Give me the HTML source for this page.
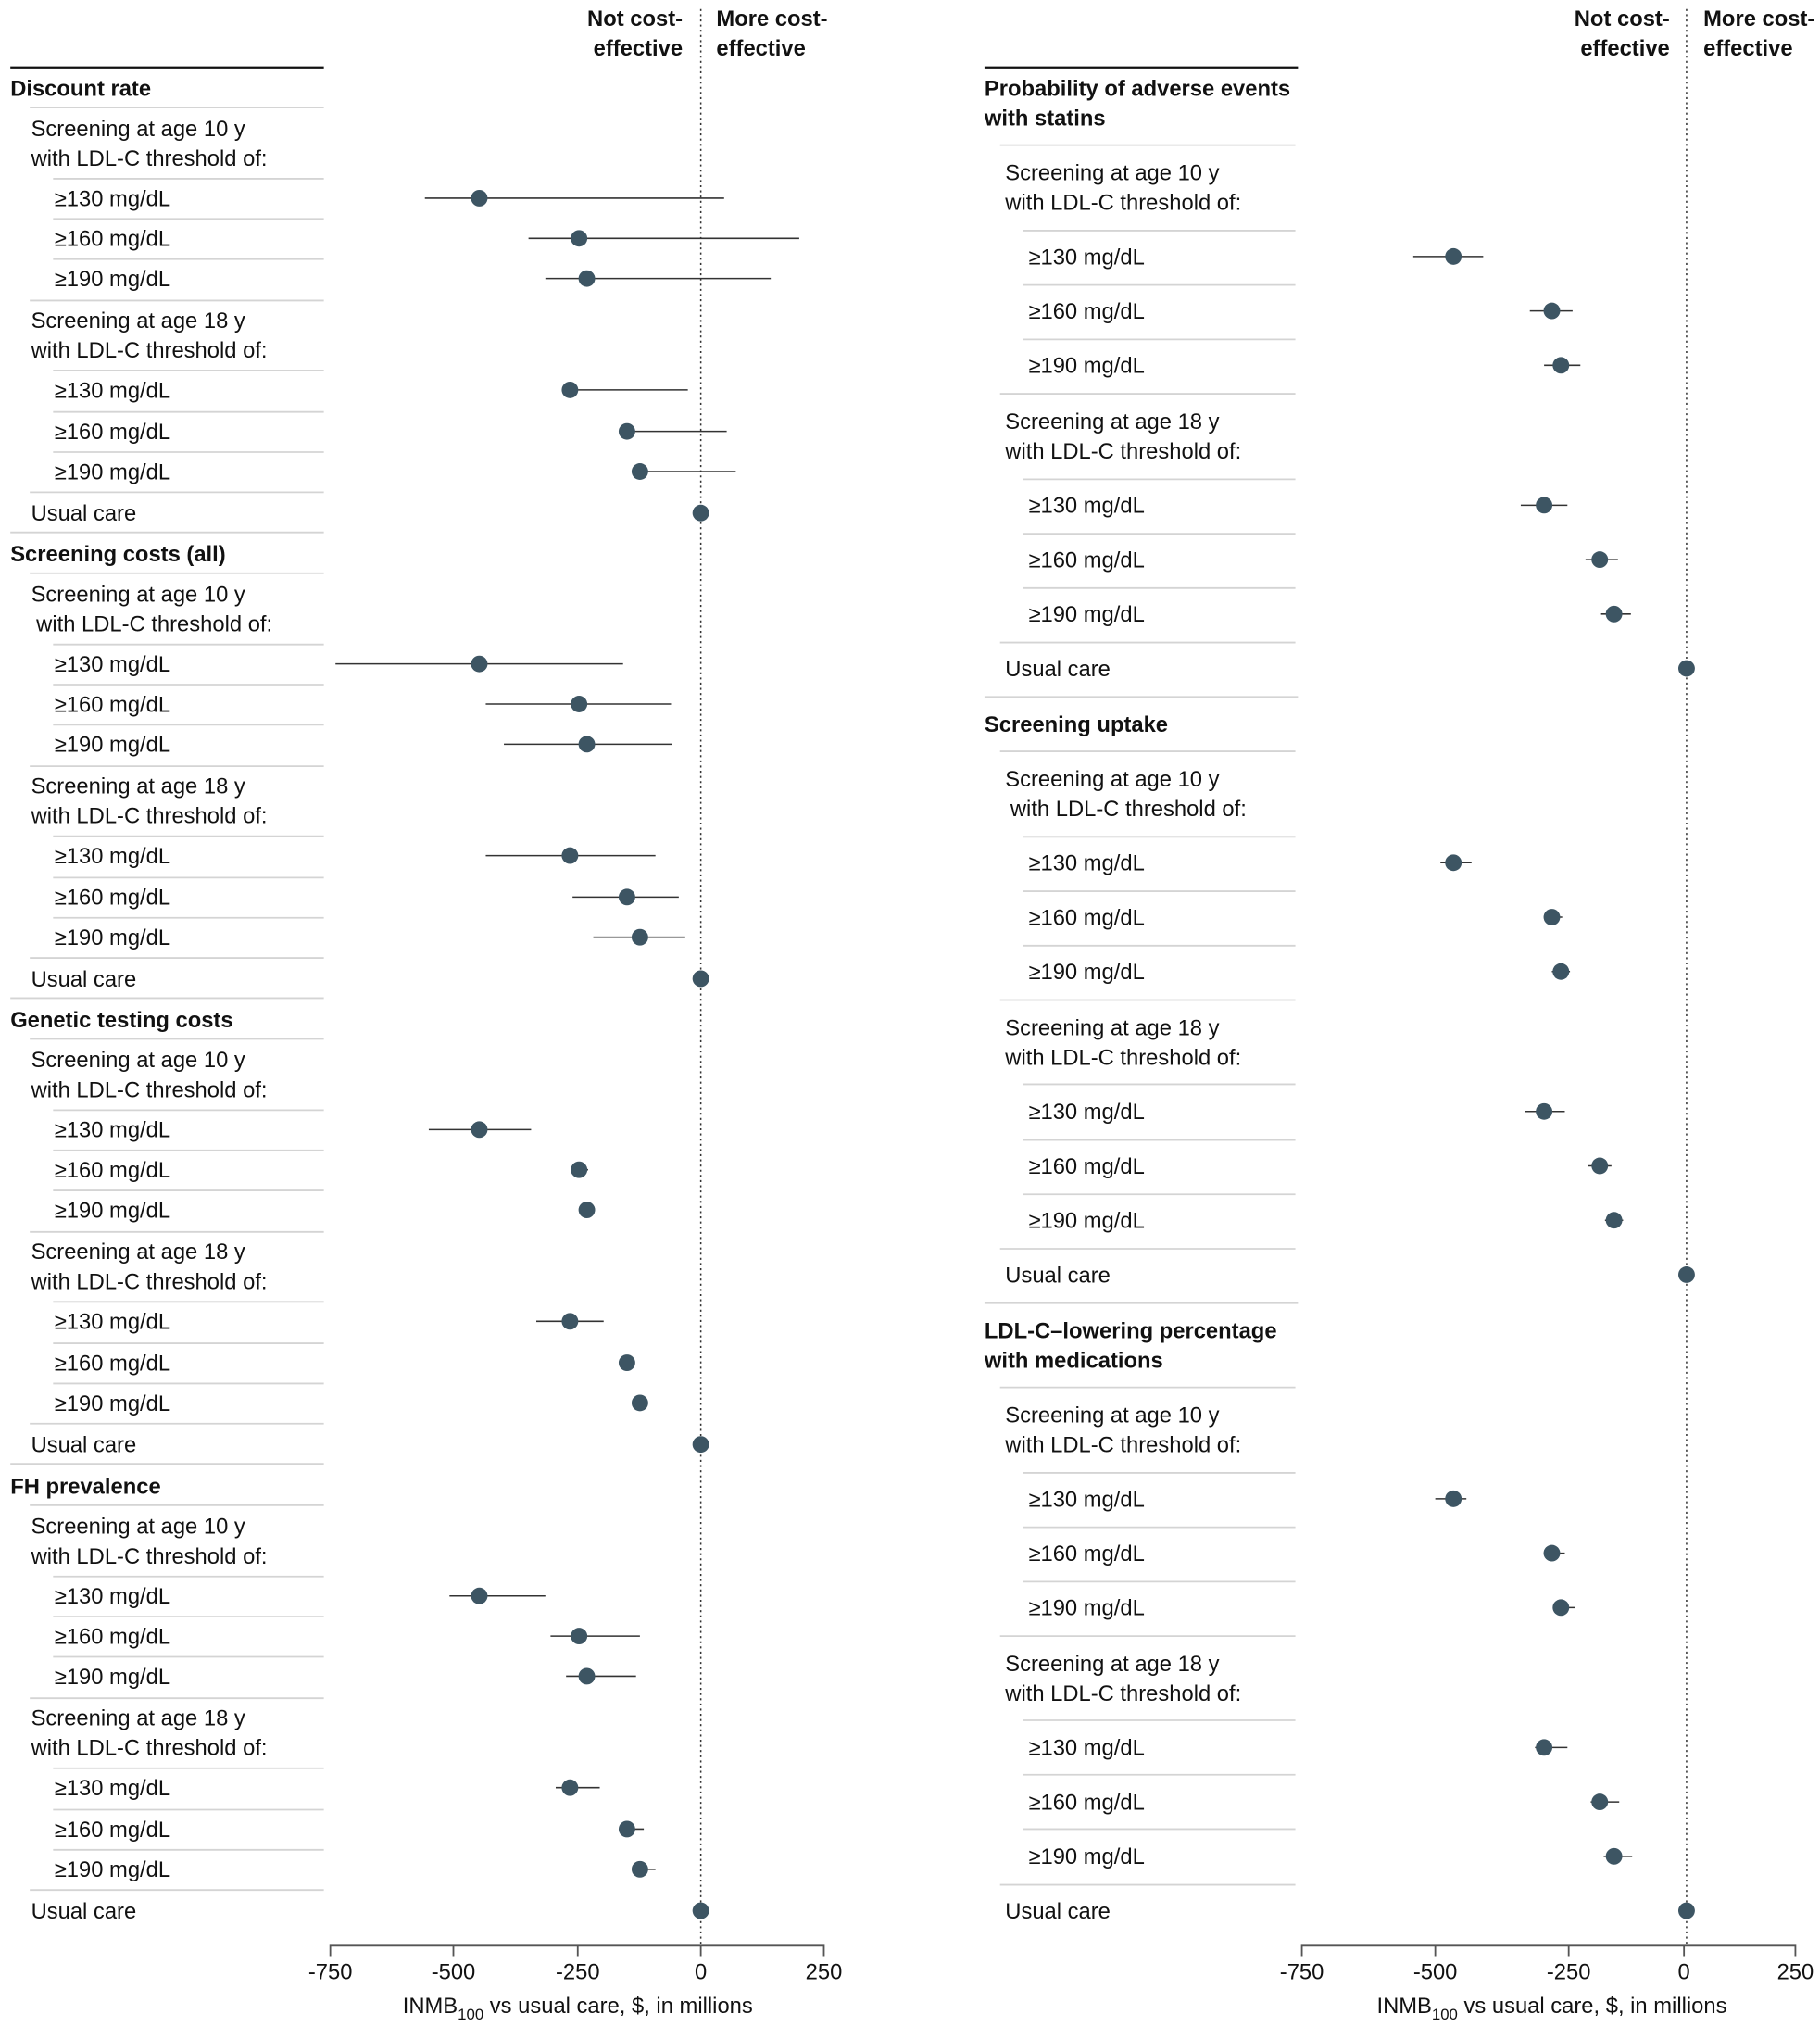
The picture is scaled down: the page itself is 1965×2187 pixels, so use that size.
<!DOCTYPE html>
<html><head><meta charset="utf-8"><style>
html,body{margin:0;padding:0;background:#fff;}
svg{display:block;}
text{font-family:"Liberation Sans",sans-serif;font-size:17px;fill:#111;}
.b{font-weight:bold;}
.s{stroke:#d4d4d4;stroke-width:1.3;}
.ci{stroke:#333;stroke-width:1.1;}
.d{fill:#3d5563;}
.ax{stroke:#555;stroke-width:1.3;fill:none;}
.t{text-anchor:middle;}
</style></head><body>
<svg width="1965" height="2187" viewBox="0 0 1405 1564" preserveAspectRatio="none" xmlns="http://www.w3.org/2000/svg">
<!-- headers -->
<text class="b" x="527" y="20" text-anchor="end">Not cost-</text>
<text class="b" x="527" y="43" text-anchor="end">effective</text>
<text class="b" x="553" y="20">More cost-</text>
<text class="b" x="553" y="43">effective</text>
<text class="b" x="1289" y="20" text-anchor="end">Not cost-</text>
<text class="b" x="1289" y="43" text-anchor="end">effective</text>
<text class="b" x="1315" y="20">More cost-</text>
<text class="b" x="1315" y="43">effective</text>
<line x1="541" y1="7" x2="541" y2="1502" stroke="#333" stroke-width="1.1" stroke-dasharray="1.5,2.5"/>
<line x1="1302" y1="7" x2="1302" y2="1502" stroke="#333" stroke-width="1.1" stroke-dasharray="1.5,2.5"/>
<line x1="8" y1="52" x2="250" y2="52" stroke="#111" stroke-width="1.6"/>
<line x1="760" y1="52" x2="1002" y2="52" stroke="#111" stroke-width="1.6"/>

<!-- LEFT PANEL: section template repeated -->
<g id="L0" transform="translate(0,68)">
<text class="b" x="8" y="6">Discount rate</text>
<line class="s" x1="23" y1="15" x2="250" y2="15"/>
<text x="24" y="37">Screening at age 10 y</text><text x="24" y="60">with LDL-C threshold of:</text>
<line class="s" x1="41" y1="70" x2="250" y2="70"/>
<text x="42" y="91">≥130 mg/dL</text>
<line class="s" x1="41" y1="101" x2="250" y2="101"/>
<text x="42" y="122">≥160 mg/dL</text>
<line class="s" x1="41" y1="132" x2="250" y2="132"/>
<text x="42" y="153">≥190 mg/dL</text>
<line class="s" x1="23" y1="164" x2="250" y2="164"/>
<text x="24" y="185">Screening at age 18 y</text><text x="24" y="208">with LDL-C threshold of:</text>
<line class="s" x1="41" y1="218" x2="250" y2="218"/>
<text x="42" y="239">≥130 mg/dL</text>
<line class="s" x1="41" y1="250" x2="250" y2="250"/>
<text x="42" y="271">≥160 mg/dL</text>
<line class="s" x1="41" y1="281" x2="250" y2="281"/>
<text x="42" y="302">≥190 mg/dL</text>
<line class="s" x1="23" y1="312" x2="250" y2="312"/>
<text x="24" y="334">Usual care</text>
<line class="s" x1="8" y1="343" x2="250" y2="343"/>
<line class="ci" x1="328" y1="85" x2="559" y2="85"/><circle class="d" cx="370" cy="85" r="6.4"/>
<line class="ci" x1="408" y1="116" x2="617" y2="116"/><circle class="d" cx="447" cy="116" r="6.4"/>
<line class="ci" x1="421" y1="147" x2="595" y2="147"/><circle class="d" cx="453" cy="147" r="6.4"/>
<line class="ci" x1="440" y1="233" x2="531" y2="233"/><circle class="d" cx="440" cy="233" r="6.4"/>
<line class="ci" x1="484" y1="265" x2="561" y2="265"/><circle class="d" cx="484" cy="265" r="6.4"/>
<line class="ci" x1="494" y1="296" x2="568" y2="296"/><circle class="d" cx="494" cy="296" r="6.4"/>
<circle class="d" cx="541" cy="328" r="6.4"/>
</g>

<g transform="translate(0,427.5)">
<text class="b" x="8" y="6">Screening costs (all)</text>
<line class="s" x1="23" y1="15" x2="250" y2="15"/>
<text x="24" y="37">Screening at age 10 y</text><text x="28" y="60">with LDL-C threshold of:</text>
<line class="s" x1="41" y1="70" x2="250" y2="70"/>
<text x="42" y="91">≥130 mg/dL</text>
<line class="s" x1="41" y1="101" x2="250" y2="101"/>
<text x="42" y="122">≥160 mg/dL</text>
<line class="s" x1="41" y1="132" x2="250" y2="132"/>
<text x="42" y="153">≥190 mg/dL</text>
<line class="s" x1="23" y1="164" x2="250" y2="164"/>
<text x="24" y="185">Screening at age 18 y</text><text x="24" y="208">with LDL-C threshold of:</text>
<line class="s" x1="41" y1="218" x2="250" y2="218"/>
<text x="42" y="239">≥130 mg/dL</text>
<line class="s" x1="41" y1="250" x2="250" y2="250"/>
<text x="42" y="271">≥160 mg/dL</text>
<line class="s" x1="41" y1="281" x2="250" y2="281"/>
<text x="42" y="302">≥190 mg/dL</text>
<line class="s" x1="23" y1="312" x2="250" y2="312"/>
<text x="24" y="334">Usual care</text>
<line class="s" x1="8" y1="343" x2="250" y2="343"/>
<line class="ci" x1="259" y1="85" x2="481" y2="85"/><circle class="d" cx="370" cy="85" r="6.4"/>
<line class="ci" x1="375" y1="116" x2="518" y2="116"/><circle class="d" cx="447" cy="116" r="6.4"/>
<line class="ci" x1="389" y1="147" x2="519" y2="147"/><circle class="d" cx="453" cy="147" r="6.4"/>
<line class="ci" x1="375" y1="233" x2="506" y2="233"/><circle class="d" cx="440" cy="233" r="6.4"/>
<line class="ci" x1="442" y1="265" x2="524" y2="265"/><circle class="d" cx="484" cy="265" r="6.4"/>
<line class="ci" x1="458" y1="296" x2="529" y2="296"/><circle class="d" cx="494" cy="296" r="6.4"/>
<circle class="d" cx="541" cy="328" r="6.4"/>
</g>

<g transform="translate(0,787)">
<text class="b" x="8" y="6">Genetic testing costs</text>
<line class="s" x1="23" y1="15" x2="250" y2="15"/>
<text x="24" y="37">Screening at age 10 y</text><text x="24" y="60">with LDL-C threshold of:</text>
<line class="s" x1="41" y1="70" x2="250" y2="70"/>
<text x="42" y="91">≥130 mg/dL</text>
<line class="s" x1="41" y1="101" x2="250" y2="101"/>
<text x="42" y="122">≥160 mg/dL</text>
<line class="s" x1="41" y1="132" x2="250" y2="132"/>
<text x="42" y="153">≥190 mg/dL</text>
<line class="s" x1="23" y1="164" x2="250" y2="164"/>
<text x="24" y="185">Screening at age 18 y</text><text x="24" y="208">with LDL-C threshold of:</text>
<line class="s" x1="41" y1="218" x2="250" y2="218"/>
<text x="42" y="239">≥130 mg/dL</text>
<line class="s" x1="41" y1="250" x2="250" y2="250"/>
<text x="42" y="271">≥160 mg/dL</text>
<line class="s" x1="41" y1="281" x2="250" y2="281"/>
<text x="42" y="302">≥190 mg/dL</text>
<line class="s" x1="23" y1="312" x2="250" y2="312"/>
<text x="24" y="334">Usual care</text>
<line class="s" x1="8" y1="343" x2="250" y2="343"/>
<line class="ci" x1="331" y1="85" x2="410" y2="85"/><circle class="d" cx="370" cy="85" r="6.4"/>
<line class="ci" x1="441" y1="116" x2="454" y2="116"/><circle class="d" cx="447" cy="116" r="6.4"/>
<circle class="d" cx="453" cy="147" r="6.4"/>
<line class="ci" x1="414" y1="233" x2="466" y2="233"/><circle class="d" cx="440" cy="233" r="6.4"/>
<circle class="d" cx="484" cy="265" r="6.4"/>
<circle class="d" cx="494" cy="296" r="6.4"/>
<circle class="d" cx="541" cy="328" r="6.4"/>
</g>

<g transform="translate(0,1147)">
<text class="b" x="8" y="6">FH prevalence</text>
<line class="s" x1="23" y1="15" x2="250" y2="15"/>
<text x="24" y="37">Screening at age 10 y</text><text x="24" y="60">with LDL-C threshold of:</text>
<line class="s" x1="41" y1="70" x2="250" y2="70"/>
<text x="42" y="91">≥130 mg/dL</text>
<line class="s" x1="41" y1="101" x2="250" y2="101"/>
<text x="42" y="122">≥160 mg/dL</text>
<line class="s" x1="41" y1="132" x2="250" y2="132"/>
<text x="42" y="153">≥190 mg/dL</text>
<line class="s" x1="23" y1="164" x2="250" y2="164"/>
<text x="24" y="185">Screening at age 18 y</text><text x="24" y="208">with LDL-C threshold of:</text>
<line class="s" x1="41" y1="218" x2="250" y2="218"/>
<text x="42" y="239">≥130 mg/dL</text>
<line class="s" x1="41" y1="250" x2="250" y2="250"/>
<text x="42" y="271">≥160 mg/dL</text>
<line class="s" x1="41" y1="281" x2="250" y2="281"/>
<text x="42" y="302">≥190 mg/dL</text>
<line class="s" x1="23" y1="312" x2="250" y2="312"/>
<text x="24" y="334">Usual care</text>
<line class="ci" x1="347" y1="85" x2="421" y2="85"/><circle class="d" cx="370" cy="85" r="6.4"/>
<line class="ci" x1="425" y1="116" x2="494" y2="116"/><circle class="d" cx="447" cy="116" r="6.4"/>
<line class="ci" x1="437" y1="147" x2="491" y2="147"/><circle class="d" cx="453" cy="147" r="6.4"/>
<line class="ci" x1="429" y1="233" x2="463" y2="233"/><circle class="d" cx="440" cy="233" r="6.4"/>
<line class="ci" x1="478" y1="265" x2="497" y2="265"/><circle class="d" cx="484" cy="265" r="6.4"/>
<line class="ci" x1="488" y1="296" x2="506" y2="296"/><circle class="d" cx="494" cy="296" r="6.4"/>
<circle class="d" cx="541" cy="328" r="6.4"/>
</g>

<!-- RIGHT PANEL -->
<text class="b" x="760" y="74">Probability of adverse events</text>
<text class="b" x="760" y="97">with statins</text>
<line class="s" x1="772" y1="112" x2="1000" y2="112"/>
<text x="776" y="139">Screening at age 10 y</text><text x="776" y="162">with LDL-C threshold of:</text>
<line class="s" x1="790" y1="178" x2="1000" y2="178"/>
<text x="794" y="204">≥130 mg/dL</text>
<line class="s" x1="790" y1="220" x2="1000" y2="220"/>
<text x="794" y="246">≥160 mg/dL</text>
<line class="s" x1="790" y1="262" x2="1000" y2="262"/>
<text x="794" y="288">≥190 mg/dL</text>
<line class="s" x1="772" y1="304" x2="1000" y2="304"/>
<text x="776" y="331">Screening at age 18 y</text><text x="776" y="354">with LDL-C threshold of:</text>
<line class="s" x1="790" y1="370" x2="1000" y2="370"/>
<text x="794" y="396">≥130 mg/dL</text>
<line class="s" x1="790" y1="412" x2="1000" y2="412"/>
<text x="794" y="438">≥160 mg/dL</text>
<line class="s" x1="790" y1="454" x2="1000" y2="454"/>
<text x="794" y="480">≥190 mg/dL</text>
<line class="s" x1="772" y1="496" x2="1000" y2="496"/>
<text x="776" y="522">Usual care</text>
<line class="s" x1="760" y1="538" x2="1002" y2="538"/>
<text class="b" x="760" y="565">Screening uptake</text>
<line class="s" x1="772" y1="580" x2="1000" y2="580"/>
<text x="776" y="607">Screening at age 10 y</text><text x="780" y="630">with LDL-C threshold of:</text>
<line class="s" x1="790" y1="646" x2="1000" y2="646"/>
<text x="794" y="672">≥130 mg/dL</text>
<line class="s" x1="790" y1="688" x2="1000" y2="688"/>
<text x="794" y="714">≥160 mg/dL</text>
<line class="s" x1="790" y1="730" x2="1000" y2="730"/>
<text x="794" y="756">≥190 mg/dL</text>
<line class="s" x1="772" y1="772" x2="1000" y2="772"/>
<text x="776" y="799">Screening at age 18 y</text><text x="776" y="822">with LDL-C threshold of:</text>
<line class="s" x1="790" y1="837" x2="1000" y2="837"/>
<text x="794" y="864">≥130 mg/dL</text>
<line class="s" x1="790" y1="880" x2="1000" y2="880"/>
<text x="794" y="906">≥160 mg/dL</text>
<line class="s" x1="790" y1="922" x2="1000" y2="922"/>
<text x="794" y="948">≥190 mg/dL</text>
<line class="s" x1="772" y1="964" x2="1000" y2="964"/>
<text x="776" y="990">Usual care</text>
<line class="s" x1="760" y1="1006" x2="1002" y2="1006"/>
<text class="b" x="760" y="1033">LDL-C–lowering percentage</text>
<text class="b" x="760" y="1056">with medications</text>
<line class="s" x1="772" y1="1071" x2="1000" y2="1071"/>
<text x="776" y="1098">Screening at age 10 y</text><text x="776" y="1121">with LDL-C threshold of:</text>
<line class="s" x1="790" y1="1137" x2="1000" y2="1137"/>
<text x="794" y="1163">≥130 mg/dL</text>
<line class="s" x1="790" y1="1179" x2="1000" y2="1179"/>
<text x="794" y="1205">≥160 mg/dL</text>
<line class="s" x1="790" y1="1221" x2="1000" y2="1221"/>
<text x="794" y="1247">≥190 mg/dL</text>
<line class="s" x1="772" y1="1263" x2="1000" y2="1263"/>
<text x="776" y="1290">Screening at age 18 y</text><text x="776" y="1313">with LDL-C threshold of:</text>
<line class="s" x1="790" y1="1328" x2="1000" y2="1328"/>
<text x="794" y="1355">≥130 mg/dL</text>
<line class="s" x1="790" y1="1370" x2="1000" y2="1370"/>
<text x="794" y="1397">≥160 mg/dL</text>
<line class="s" x1="790" y1="1412" x2="1000" y2="1412"/>
<text x="794" y="1439">≥190 mg/dL</text>
<line class="s" x1="772" y1="1455" x2="1000" y2="1455"/>
<text x="776" y="1481">Usual care</text>

<!-- right points -->
<line class="ci" x1="1091" y1="198" x2="1145" y2="198"/><circle class="d" cx="1122" cy="198" r="6.4"/>
<line class="ci" x1="1181" y1="240" x2="1214" y2="240"/><circle class="d" cx="1198" cy="240" r="6.4"/>
<line class="ci" x1="1192" y1="282" x2="1220" y2="282"/><circle class="d" cx="1205" cy="282" r="6.4"/>
<line class="ci" x1="1174" y1="390" x2="1210" y2="390"/><circle class="d" cx="1192" cy="390" r="6.4"/>
<line class="ci" x1="1224" y1="432" x2="1249" y2="432"/><circle class="d" cx="1235" cy="432" r="6.4"/>
<line class="ci" x1="1236" y1="474" x2="1259" y2="474"/><circle class="d" cx="1246" cy="474" r="6.4"/>
<circle class="d" cx="1302" cy="516" r="6.4"/>

<line class="ci" x1="1112" y1="666" x2="1136" y2="666"/><circle class="d" cx="1122" cy="666" r="6.4"/>
<line class="ci" x1="1193" y1="708" x2="1206" y2="708"/><circle class="d" cx="1198" cy="708" r="6.4"/>
<line class="ci" x1="1198" y1="750" x2="1212" y2="750"/><circle class="d" cx="1205" cy="750" r="6.4"/>
<line class="ci" x1="1177" y1="858" x2="1208" y2="858"/><circle class="d" cx="1192" cy="858" r="6.4"/>
<line class="ci" x1="1226" y1="900" x2="1244" y2="900"/><circle class="d" cx="1235" cy="900" r="6.4"/>
<line class="ci" x1="1239" y1="942" x2="1253" y2="942"/><circle class="d" cx="1246" cy="942" r="6.4"/>
<circle class="d" cx="1302" cy="984" r="6.4"/>

<line class="ci" x1="1108" y1="1157" x2="1132" y2="1157"/><circle class="d" cx="1122" cy="1157" r="6.4"/>
<line class="ci" x1="1192" y1="1199" x2="1208" y2="1199"/><circle class="d" cx="1198" cy="1199" r="6.4"/>
<line class="ci" x1="1199" y1="1241" x2="1216" y2="1241"/><circle class="d" cx="1205" cy="1241" r="6.4"/>
<line class="ci" x1="1185" y1="1349" x2="1210" y2="1349"/><circle class="d" cx="1192" cy="1349" r="6.4"/>
<line class="ci" x1="1228" y1="1391" x2="1250" y2="1391"/><circle class="d" cx="1235" cy="1391" r="6.4"/>
<line class="ci" x1="1238" y1="1433" x2="1260" y2="1433"/><circle class="d" cx="1246" cy="1433" r="6.4"/>
<circle class="d" cx="1302" cy="1475" r="6.4"/>

<!-- axes -->
<path class="ax" d="M255,1510V1502H636V1510 M350,1502V1510 M446,1502V1510 M541,1502V1510"/>
<text class="t" x="255" y="1528">-750</text>
<text class="t" x="350" y="1528">-500</text>
<text class="t" x="446" y="1528">-250</text>
<text class="t" x="541" y="1528">0</text>
<text class="t" x="636" y="1528">250</text>
<text class="t" x="446" y="1554">INMB<tspan font-size="12" dy="5">100</tspan><tspan dy="-5"> vs usual care, $, in millions</tspan></text>

<path class="ax" d="M1005,1510V1502H1386V1510 M1108,1502V1510 M1211,1502V1510 M1300,1502V1510"/>
<text class="t" x="1005" y="1528">-750</text>
<text class="t" x="1108" y="1528">-500</text>
<text class="t" x="1211" y="1528">-250</text>
<text class="t" x="1300" y="1528">0</text>
<text class="t" x="1386" y="1528">250</text>
<text class="t" x="1198" y="1554">INMB<tspan font-size="12" dy="5">100</tspan><tspan dy="-5"> vs usual care, $, in millions</tspan></text>
</svg>
</body></html>
